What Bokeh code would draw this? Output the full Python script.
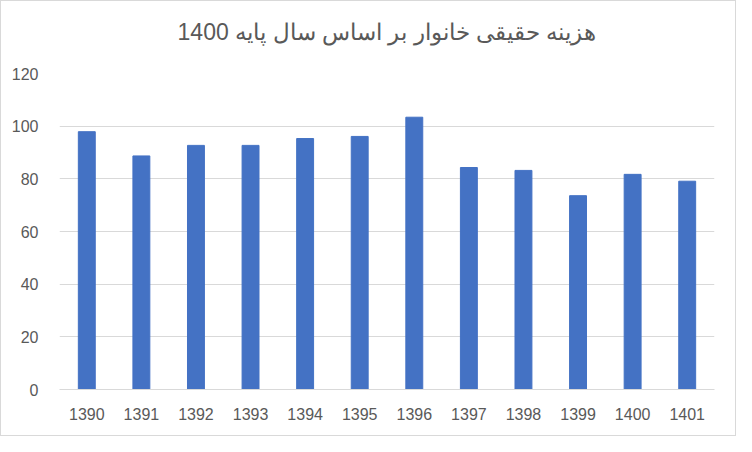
from bokeh.plotting import figure
from bokeh.embed import file_html
from bokeh.resources import INLINE
from bokeh.models import ColumnDataSource, FactorRange, Range1d, SingleIntervalTicker, Title

# datos
years = ['1390', '1391', '1392', '1393', '1394', '1395',
         '1396', '1397', '1398', '1399', '1400', '1401']
values = [97.9, 88.7, 92.7, 92.7, 95.3, 96.1, 103.4, 84.3, 83.2, 73.6, 81.7, 79.1]
title = "هزینه حقیقی خانوار بر اساس سال پایه 1400"

source = ColumnDataSource(dict(x=years, y=values))

p = figure(x_range=FactorRange(*years, range_padding=0),
           y_range=Range1d(0, 120),
           width=736, height=436,
           output_backend="svg", toolbar_location=None,
           min_border_left=58, min_border_right=23,
           min_border_top=72, min_border_bottom=48,
           styles={"border": "1px solid #d9d9d9", "box-sizing": "border-box"})
p.title_location = None

p.vbar(x='x', top='y', width=0.31, source=source, color="#4472C4")

# espacio entre el titulo y el grafico
p.add_layout(Title(text=" ", text_font_size="10px", standoff=16), "above")
# titulo
p.add_layout(Title(text=title, align="center", text_font="Liberation Sans",
                   text_font_size="23px", text_font_style="normal",
                   text_color="#595959", standoff=0), "above")

p.outline_line_color = None
p.xgrid.grid_line_color = None
p.ygrid.grid_line_color = "#d9d9d9"
p.ygrid.grid_line_width = 1

p.yaxis.ticker = SingleIntervalTicker(interval=20)
p.yaxis.axis_line_color = None
p.yaxis.major_tick_line_color = None
p.yaxis.minor_tick_line_color = None
p.yaxis.major_label_text_font = "Liberation Sans"
p.yaxis.major_label_text_font_size = "16px"
p.yaxis.major_label_text_color = "#595959"
p.yaxis.major_label_standoff = 15

p.xaxis.axis_line_color = "#d9d9d9"
p.xaxis.major_tick_line_color = None
p.xaxis.minor_tick_line_color = None
p.xaxis.major_label_text_font = "Liberation Sans"
p.xaxis.major_label_text_font_size = "16px"
p.xaxis.major_label_text_color = "#595959"
p.xaxis.major_label_standoff = 12

open("out.html", "w").write(file_html(p, INLINE))
